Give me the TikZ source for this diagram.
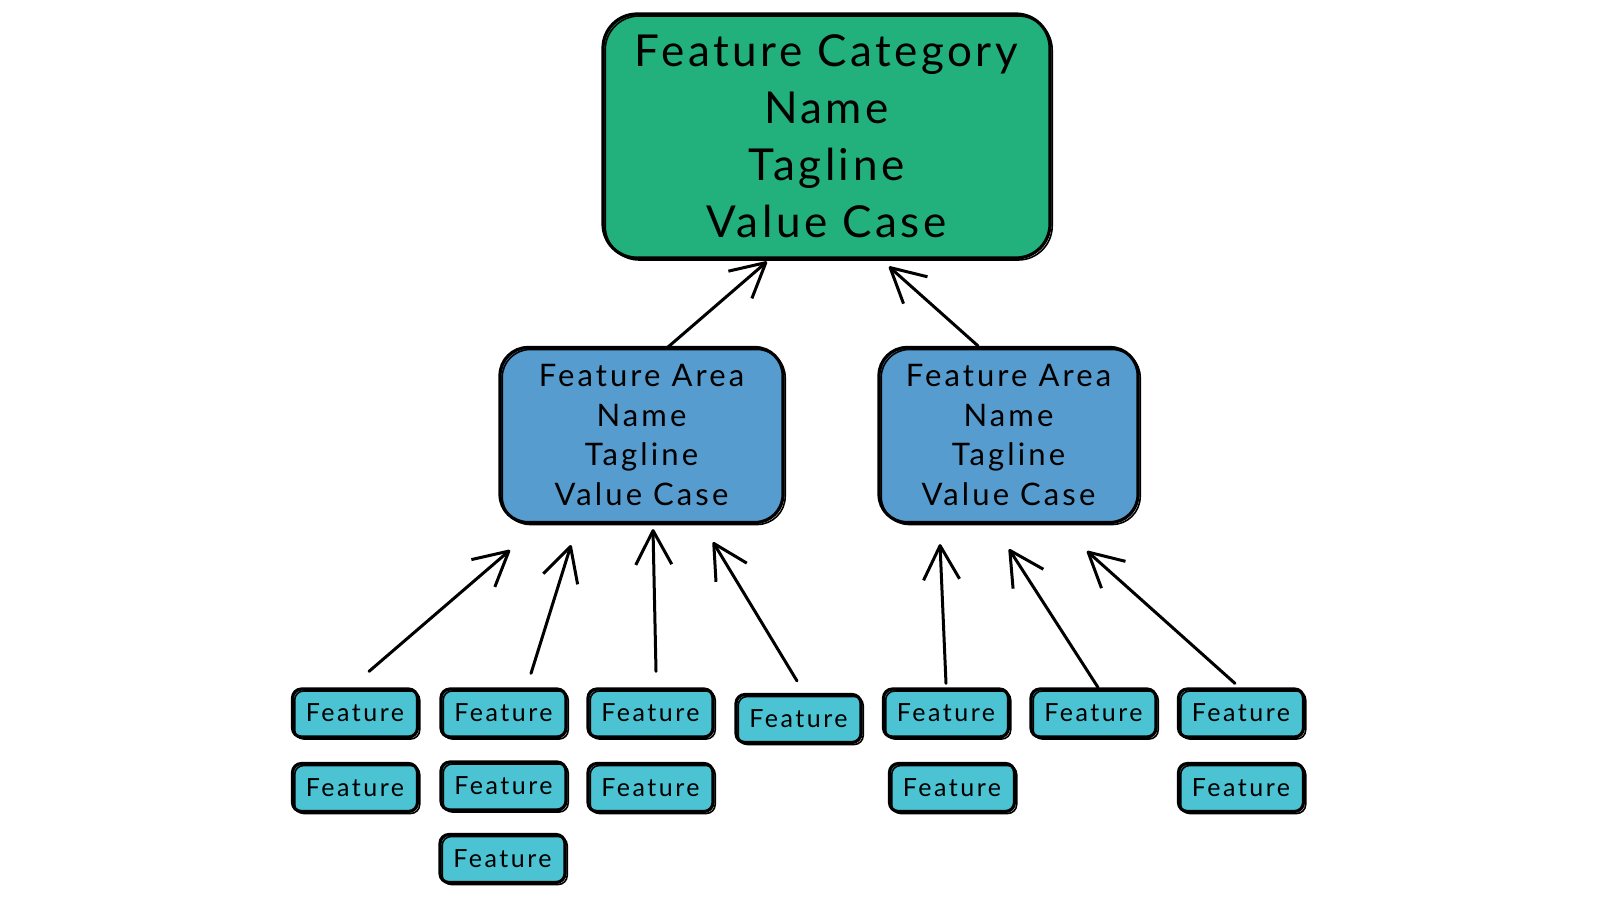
\documentclass[tikz,border=0pt]{standalone}
\usepackage{fontspec}
\setmainfont{Lato}
\usetikzlibrary{arrows.meta,calc}
\definecolor{cgreen}{RGB}{34,176,125}
\definecolor{cblue}{RGB}{86,156,206}
\definecolor{ccyan}{RGB}{76,195,210}
\begin{document}
\begin{tikzpicture}[x=1pt,y=-1pt,
  sketch/.style={draw=black, line width=3.2pt, rounded corners=#1, align=center, inner sep=0pt,
     postaction={draw=black, line width=1.6pt, transform canvas={shift={(2.2pt,-2pt)}}}},
  catbox/.style={sketch=34pt, fill=cgreen, minimum width=447pt, minimum height=244pt,
     font=\fontsize{44}{57}\selectfont\addfontfeatures{LetterSpace=8}},
  areabox/.style={sketch=28pt, fill=cblue, minimum height=175pt,
     font=\fontsize{31}{39.5}\selectfont\addfontfeatures{LetterSpace=10}},
  featbox/.style={sketch=9pt, fill=ccyan, minimum width=125pt, minimum height=48pt,
     font=\fontsize{25}{28}\selectfont\addfontfeatures{LetterSpace=10}},
  arr/.style={draw=black, line width=3pt, line cap=round,
     -{Straight Barb[length=34pt,width=36pt,line join=round]}}
]
\useasboundingbox[fill=white] (0,0) rectangle (1598,899);

% top category
\node[catbox] (G) at (826.5,136) {Feature Category\\Name\\Tagline\\Value Case};

% areas
\node[areabox, minimum width=283pt] (B1) at (641.5,435) {Feature Area\\Name\\Tagline\\Value Case};
\node[areabox, minimum width=259pt] (B2) at (1008.5,435) {Feature Area\\Name\\Tagline\\Value Case};

% features
\node[featbox] (f11) at (355,713) {Feature};
\node[featbox] (f12) at (355,787.5) {Feature};
\node[featbox] (f21) at (503.5,713) {Feature};
\node[featbox] (f22) at (503.5,786) {Feature};
\node[featbox] (f23) at (502.5,858.5) {Feature};
\node[featbox] (f31) at (650.5,713) {Feature};
\node[featbox] (f32) at (650.5,787.5) {Feature};
\node[featbox] (f41) at (798.5,718.5) {Feature};
\node[featbox] (f51) at (946,713) {Feature};
\node[featbox] (f52) at (952,787.5) {Feature};
\node[featbox] (f61) at (1093.5,713) {Feature};
\node[featbox] (f71) at (1241,713) {Feature};
\node[featbox] (f72) at (1241,787.5) {Feature};

% connectors feature -> area
\draw[arr] ([shift={(14,-16)}]f11.north) -- ([shift={(-131.5,26)}]B1.south);
\draw[arr] ([shift={(27.5,-14)}]f21.north) -- ([shift={(-70.5,21)}]B1.south);
\draw[arr] ([shift={(5.5,-16)}]f31.north) -- ([shift={(11.5,5)}]B1.south);
\draw[arr] ([shift={(-1.5,-12)}]f41.north) -- ([shift={(71.5,18)}]B1.south);
\draw[arr] ([shift={(0,-4)}]f51.north) -- ([shift={(-68.5,20)}]B2.south);
\draw[arr] ([shift={(4.5,0)}]f61.north) -- ([shift={(0.5,25)}]B2.south);
\draw[arr] ([shift={(-6,-4)}]f71.north) -- ([shift={(78.5,27)}]B2.south);

% connectors area -> category
\draw[arr] ([shift={(25.5,2)}]B1.north) -- ([shift={(-59.5,2)}]G.south);
\draw[arr] ([shift={(-30.5,0)}]B2.north) -- ([shift={(62.5,7)}]G.south);
\end{tikzpicture}
\end{document}
